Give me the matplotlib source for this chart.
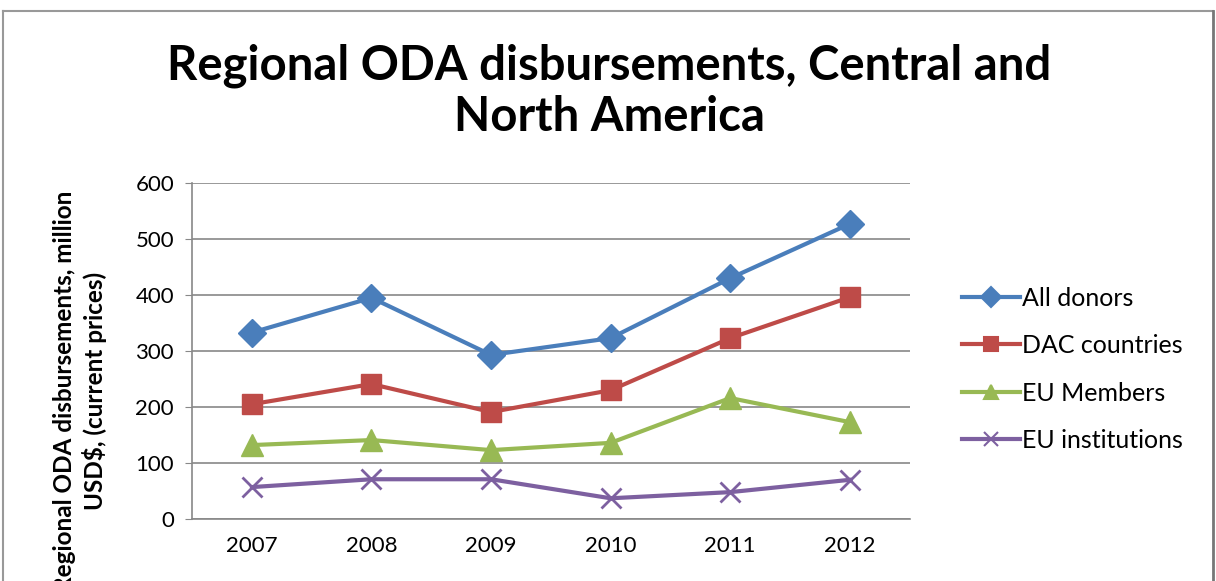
import matplotlib
matplotlib.use("Agg")
import matplotlib.pyplot as plt
from matplotlib.lines import Line2D

years = ["2007", "2008", "2009", "2010", "2011", "2012"]
all_donors = [333, 395, 293, 323, 430, 527]
dac_countries = [205, 241, 191, 230, 323, 396]
eu_members = [132, 141, 123, 136, 216, 173]
eu_institutions = [57, 71, 71, 37, 48, 70]
series_names = ["All donors", "DAC countries", "EU Members", "EU institutions"]
yticks = [0, 100, 200, 300, 400, 500, 600]

plt.rcParams['font.family'] = ['Lato', 'DejaVu Sans']

fig = plt.figure(figsize=(12.16, 5.81), dpi=100)
ax = fig.add_axes([0.158, 0.1067, 0.59, 0.5783])

x = list(range(len(years)))
styles = [
    (all_donors, "#4A7EBB", "D", 14, 0),
    (dac_countries, "#BE4B48", "s", 14, 0),
    (eu_members, "#98B954", "^", 16, 0),
    (eu_institutions, "#7D60A0", "x", 14, 2),
]
handles = []
for (vals, c, m, ms, mew), name in zip(styles, series_names):
    kw = dict(markeredgewidth=mew) if m == "x" else dict(markeredgecolor=c)
    ln, = ax.plot(x, vals, color=c, lw=3, marker=m, markersize=ms, markerfacecolor=c,
                  label=name, clip_on=False, zorder=3, **kw)
    handles.append(ln)

ax.set_xlim(-0.5, len(years) - 0.5)
ax.set_ylim(0, 600)
ax.set_yticks(yticks)
ax.set_xticks(x)
ax.set_xticklabels(years)
ax.tick_params(axis='both', labelsize=16, length=0, pad=12)
ax.tick_params(axis='y', length=5, color='#888888', pad=8)
ax.grid(axis='y', color='#888888', lw=1.2)
ax.set_axisbelow(True)
for s in ['top', 'right']:
    ax.spines[s].set_visible(False)
for s in ['left', 'bottom']:
    ax.spines[s].set_color('#888888')
    ax.spines[s].set_linewidth(1.2)

fig.text(0.066, 0.327, "Regional ODA disbursements, million\nUSD$, (current prices)",
         rotation=90, ha='center', va='center', fontsize=17.5, fontweight='bold',
         linespacing=1.3)

fig.text(0.501, 0.843, "Regional ODA disbursements, Central and\nNorth America",
         ha='center', va='center', fontsize=34, fontweight='bold', linespacing=1.2)

leg_handles = [Line2D([0], [0], color=h.get_color(), lw=3, marker=h.get_marker(),
                      markersize=10, markerfacecolor=h.get_color(),
                      markeredgecolor=h.get_color(), markeredgewidth=1.5)
               for h in handles]
fig.legend(leg_handles, series_names, loc='upper left', bbox_to_anchor=(0.781, 0.528),
           frameon=False, fontsize=18, handlelength=2.3, handletextpad=0.1,
           labelspacing=0.98, borderpad=0)

# chart border
fig.add_artist(Line2D([0.0025, 0.9975], [1 - 11/581, 1 - 11/581], color='#999999', lw=1.5,
                      transform=fig.transFigure))
fig.add_artist(Line2D([0.0025, 0.0025], [0, 1 - 11/581], color='#999999', lw=1.5,
                      transform=fig.transFigure))
fig.add_artist(Line2D([0.9975, 0.9975], [0, 1 - 11/581], color='#777777', lw=2,
                      transform=fig.transFigure))

fig.savefig("out.png", dpi=100)
